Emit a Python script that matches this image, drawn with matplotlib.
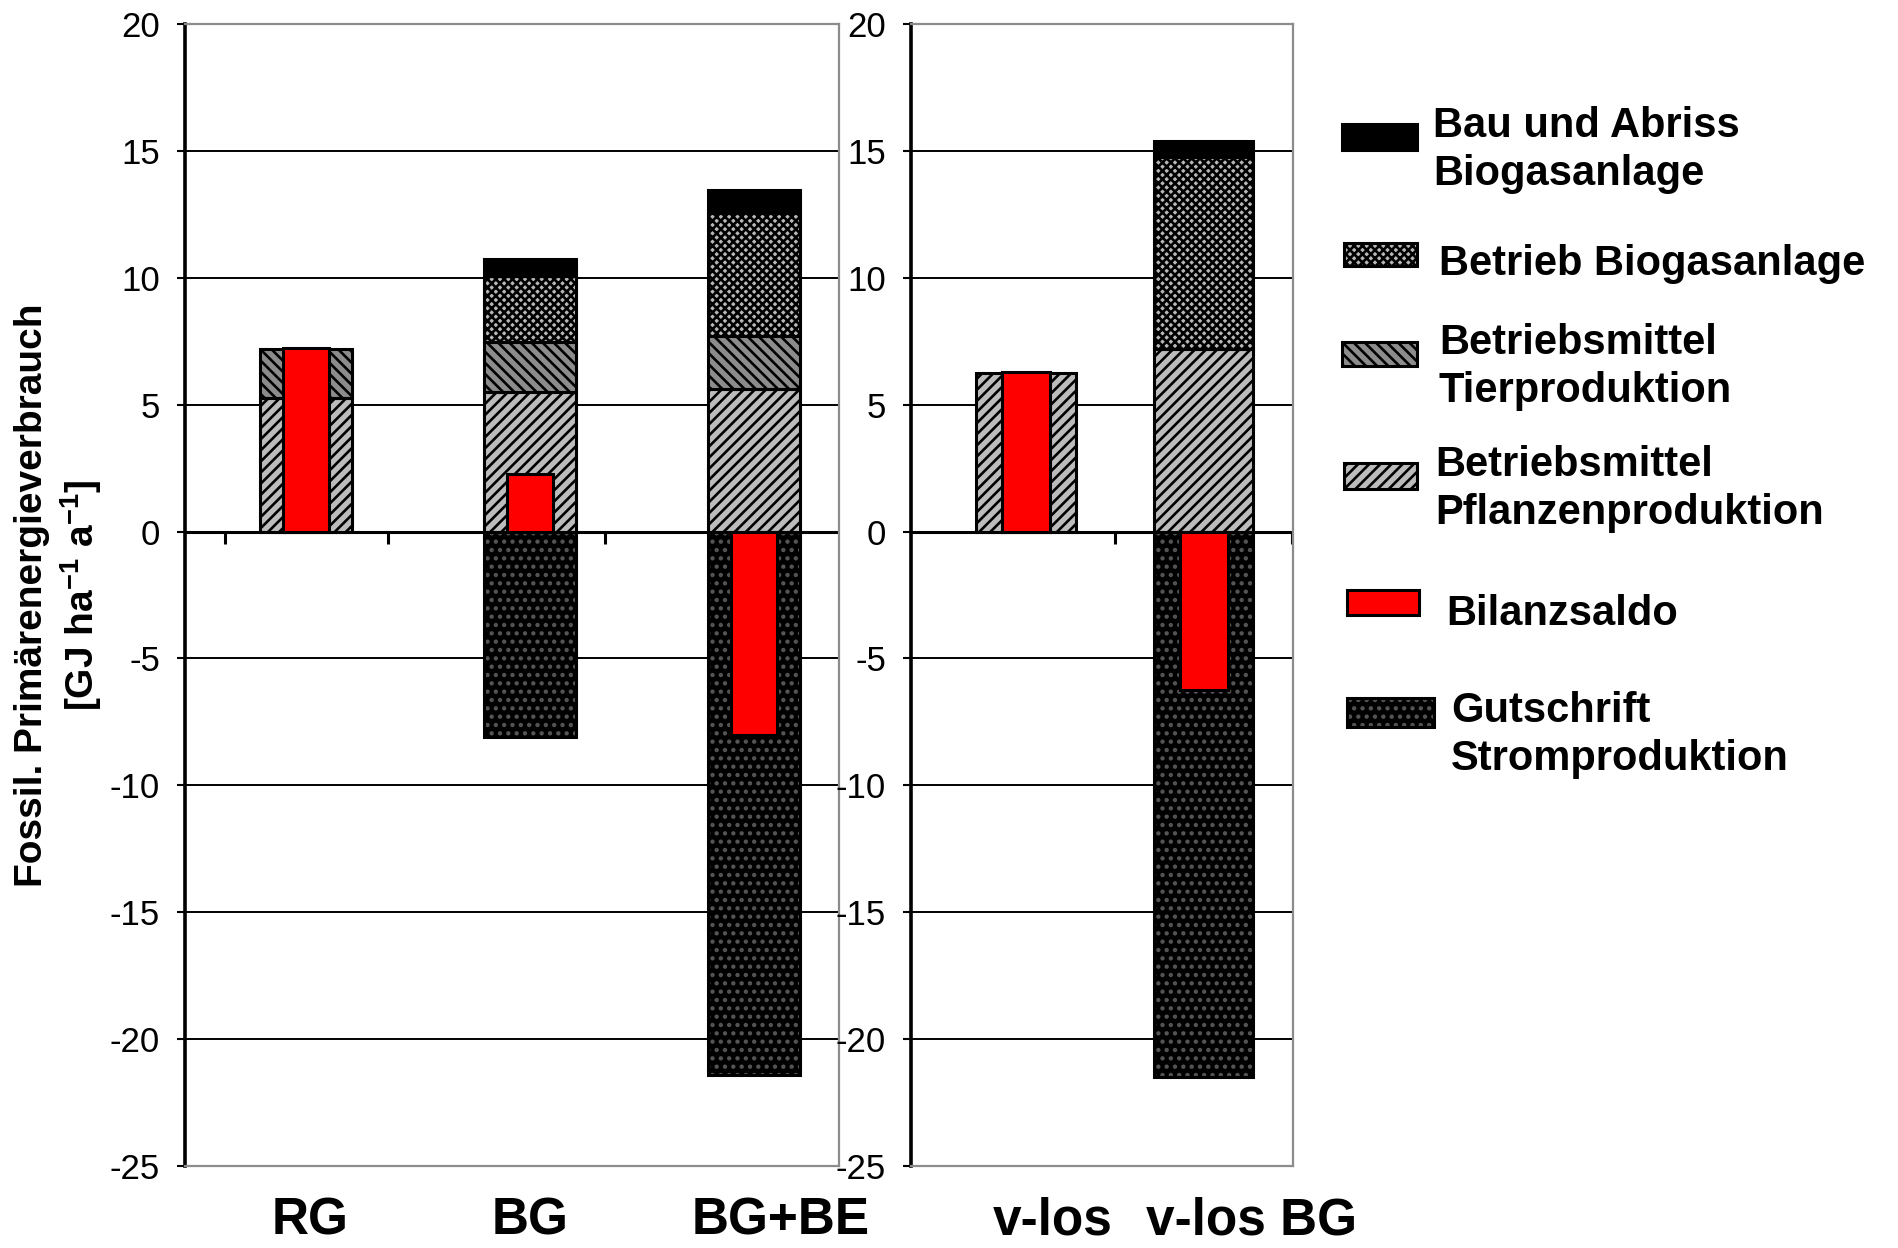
"""
Fossiler Primärenergieverbrauch je Betriebsvariante (gestapelte Balken mit Bilanzsaldo).
"""

import matplotlib.pyplot as plt
from matplotlib.patches import Rectangle

plt.rcParams['font.family'] = ['Liberation Sans', 'DejaVu Sans']
plt.rcParams['axes.unicode_minus'] = False
plt.rcParams['mathtext.fontset'] = 'custom'
plt.rcParams['mathtext.rm'] = 'Liberation Sans:bold'
plt.rcParams['mathtext.bf'] = 'Liberation Sans:bold'
plt.rcParams['mathtext.default'] = 'bf'
plt.rcParams['hatch.linewidth'] = 1.9

# linker Block: Rindergrünland-Varianten
groups_a = ["RG", "BG", "BG+BE"]
pflanzen_a = [5.25, 5.5, 5.6]
tier_a = [1.95, 1.95, 2.1]
betrieb_a = [0.0, 2.6, 4.85]
bau_a = [0.0, 0.7, 0.9]
gutschrift_a = [0.0, -8.1, -21.4]
saldo_a = [7.25, 2.25, -8.0]

# rechter Block: viehlose Varianten
groups_b = ["v-los", "v-los BG"]
pflanzen_b = [6.25, 7.2]
tier_b = [0.0, 0.0]
betrieb_b = [0.0, 7.55]
bau_b = [0.0, 0.65]
gutschrift_b = [0.0, -21.5]
saldo_b = [6.3, -6.25]

legend_labels = ["Bau und Abriss\nBiogasanlage", "Betrieb Biogasanlage",
                 "Betriebsmittel\nTierproduktion", "Betriebsmittel\nPflanzenproduktion",
                 "Bilanzsaldo", "Gutschrift\nStromproduktion"]

# Füllstile: Flächenfarbe, Schraffur, Schraffurfarbe
STYLES = {
    "bau": ("black", None, "black"),
    "betrieb": ("#b8b8b8", "xxxx", "black"),
    "tier": ("#8c8c8c", "\\\\\\", "black"),
    "pflanzen": ("#bcbcbc", "///", "black"),
    "saldo": ("#ff0000", None, "#ff0000"),
    "gutschrift": ("black", "..", "#555555"),
}


def styled_bar(ax, x, h, bottom, width, key, z=2):
    face, hatch, hcol = STYLES[key]
    ax.bar(x, h, width, bottom=bottom, color=face, hatch=hatch,
           edgecolor=hcol, linewidth=0, zorder=z)
    ax.bar(x, h, width, bottom=bottom, fill=False, edgecolor="black",
           linewidth=2.2, zorder=z + 0.5)


def styled_rect(ax, x0, y0, w, h, key):
    face, hatch, hcol = STYLES[key]
    ax.add_patch(Rectangle((x0, y0), w, h, facecolor=face, hatch=hatch,
                           edgecolor=hcol, linewidth=0))
    ax.add_patch(Rectangle((x0, y0), w, h, fill=False, edgecolor="black", linewidth=2.2))


def draw_panel(ax, groups, pflanzen, tier, betrieb, bau, gutschrift, saldo,
               stack_w, saldo_w, label_shift, zero_ticks, xlim):
    xs = list(range(len(groups)))
    for i in xs:
        b = 0.0
        for key, val in (("pflanzen", pflanzen[i]), ("tier", tier[i]),
                         ("betrieb", betrieb[i]), ("bau", bau[i])):
            if val > 0:
                styled_bar(ax, i, val, b, stack_w, key)
                b += val
        if gutschrift[i] < 0:
            styled_bar(ax, i, gutschrift[i], 0, stack_w, "gutschrift")
        styled_bar(ax, i, saldo[i], 0, saldo_w, "saldo", z=4)

    ax.set_xlim(*xlim)
    ax.set_ylim(-25, 20)
    ax.set_yticks(range(-25, 21, 5))
    ax.grid(axis="y", color="black", linewidth=1.4, zorder=0.5)
    ax.set_axisbelow(True)
    ax.axhline(0, color="black", linewidth=2.2, zorder=1)
    ax.vlines(zero_ticks, -0.5, 0, color="black", linewidth=2.2, zorder=1)

    ax.set_xticks([x + s for x, s in zip(xs, label_shift)])
    ax.set_xticklabels(groups, fontsize=37, fontweight="bold")
    ax.tick_params(axis="x", length=0, pad=22)
    ax.tick_params(axis="y", labelsize=25, length=6, width=1.5, pad=12)

    for side in ("top", "right", "bottom"):
        ax.spines[side].set_color("#8c8c8c")
        ax.spines[side].set_linewidth(1.6)
    ax.spines["left"].set_color("black")
    ax.spines["left"].set_linewidth(2.6)


fig = plt.figure(figsize=(18.99, 12.48), dpi=100)
ax_a = fig.add_axes([0.0974, 0.0657, 0.3444, 0.9151])
ax_b = fig.add_axes([0.4797, 0.0657, 0.2012, 0.9151])

draw_panel(ax_a, groups_a, pflanzen_a, tier_a, betrieb_a, bau_a, gutschrift_a, saldo_a,
           stack_w=0.41, saldo_w=0.205, label_shift=[0.02, 0.0, 0.12],
           zero_ticks=[-0.36, 0.365, 1.335], xlim=(-0.54, 2.38))
draw_panel(ax_b, groups_b, pflanzen_b, tier_b, betrieb_b, bau_b, gutschrift_b, saldo_b,
           stack_w=0.56, saldo_w=0.27, label_shift=[0.15, 0.27],
           zero_ticks=[0.5, 1.5], xlim=(-0.646, 1.503))

fig.text(59 / 1899, 1 - 595 / 1248,
         "Fossil. Primärenergieverbrauch\n[GJ ha$^{-1}$ a$^{-1}$]",
         rotation=90, ha="center", va="center", fontsize=28, fontweight="bold",
         multialignment="center", linespacing=1.25)

# Legende in Pixelkoordinaten der Abbildung
ax_leg = fig.add_axes([0, 0, 1, 1], zorder=5)
ax_leg.set_xlim(0, 1899)
ax_leg.set_ylim(1248, 0)
ax_leg.axis("off")

leg_keys = ["bau", "betrieb", "tier", "pflanzen", "saldo", "gutschrift"]
leg_boxes = [(1342, 124, 75, 26), (1344, 243, 73, 23), (1342, 342, 75, 24),
             (1344, 463, 73, 26), (1347, 590, 72, 25), (1347, 698, 87, 29)]
leg_text = [(1433, 150), (1439, 264), (1439, 367), (1435, 489), (1446, 614), (1451, 735)]
for key, box, (tx, ty), lab in zip(leg_keys, leg_boxes, leg_text, legend_labels):
    styled_rect(ax_leg, *box, key)
    ax_leg.text(tx, ty, lab, ha="left", va="center", fontsize=30, fontweight="bold",
                linespacing=1.25)

fig.savefig("out.png", dpi=100)
